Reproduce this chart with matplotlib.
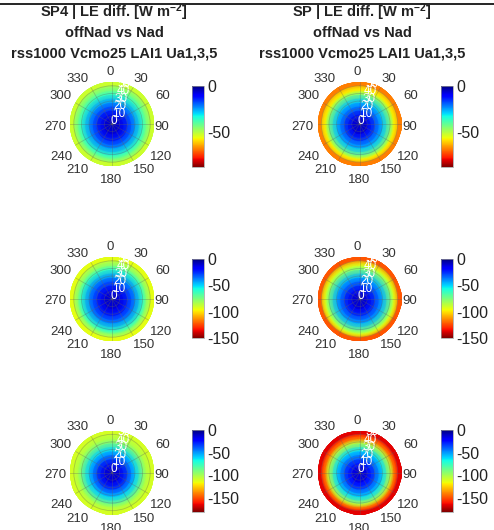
import numpy as np
import matplotlib
matplotlib.use("Agg")
import matplotlib.pyplot as plt
import matplotlib.transforms as mtransforms
from matplotlib.lines import Line2D

plt.rcParams['font.family'] = ['Liberation Sans', 'DejaVu Sans']
plt.rcParams['mathtext.fontset'] = 'custom'
plt.rcParams['mathtext.rm'] = 'Liberation Sans'
plt.rcParams['mathtext.bf'] = 'Liberation Sans:bold'
plt.rcParams['mathtext.it'] = 'Liberation Sans:italic'

# ---- data -------------------------------------------------------------
zenith = [0, 10, 20, 30, 40, 45, 50, 51, 60]          # view zenith angle (deg)
ring_shift = [3, 3, 2.5, 2, 1.5, 1, 0, 0, 0]          # offset of iso-lines toward 180 deg

# LE difference [W m-2] along zenith, per panel (row, column)
le_sp4_row1 = [-4, -8, -15, -25, -37, -44, -50, -53, -53]
le_sp_row1 = [-4, -9, -18, -28, -45, -58, -64, -69, -69]
le_sp4_row2 = [-8, -14, -25, -40, -62, -78, -88, -94, -94]
le_sp_row2 = [-8, -15, -28, -45, -75, -93, -112, -123, -123]
le_sp4_row3 = [-10, -18, -35, -60, -90, -103, -108, -110, -110]
le_sp_row3 = [-10, -20, -38, -62, -105, -140, -160, -165, -165]

clim_min = [-89, -150, -181]
cbar_ticks = [[0, -50], [0, -50, -100, -150], [0, -50, -100, -150]]
theta_ticks = [0, 30, 60, 90, 120, 150, 180, 210, 240, 270, 300, 330]
r_ticks = [0, 10, 20, 30, 40, 50]

titles = [
    [r"SP4 | LE diff. [W m$^{\mathbf{-2}}$]", "offNad vs Nad", "rss1000 Vcmo25 LAI1 Ua1,3,5"],
    [r"SP | LE diff. [W m$^{\mathbf{-2}}$]", "offNad vs Nad", "rss1000 Vcmo25 LAI1 Ua1,3,5"],
]

panels = [[le_sp4_row1, le_sp_row1], [le_sp4_row2, le_sp_row2], [le_sp4_row3, le_sp_row3]]

# ---- layout -----------------------------------------------------------
W, H = 494, 530
fig = plt.figure(figsize=(W / 100, H / 100), dpi=100)

ax_cx = [112, 359.5]
ax_cy = [124, 299, 472.5]
rad_px = 42
cbar_x = [192, 441]
cbar_y = [(86, 167), (259, 338), (430, 512)]
# pixel offsets of the angle labels from the dial centre (MATLAB polar style)
theta_label_dx = [-2, 29, 51, 50, 49, 32, -0.5, -34.5, -51, -57, -51, -34.5]
theta_label_dy = [-52, -45, -28, 2.5, 33, 46, 56, 46, 33, 2.5, -28, -45]

th = np.linspace(0, 2 * np.pi, 361)
rlabel_offset = mtransforms.ScaledTranslation(-2 / 100, -3 / 100, fig.dpi_scale_trans)

for row in range(3):
    for col in range(2):
        cx, cy = ax_cx[col], ax_cy[row]
        ax = fig.add_axes([(cx - rad_px) / W, (H - cy - rad_px) / H,
                           2 * rad_px / W, 2 * rad_px / H], projection='polar')
        ax.set_theta_zero_location('N')
        ax.set_theta_direction(-1)

        rr = np.array(zenith, float)[None, :]
        sh = np.array(ring_shift, float)[None, :]
        X = rr * np.sin(th)[:, None]
        Y = rr * np.cos(th)[:, None] - sh
        R = np.hypot(X, Y)
        T = np.unwrap(np.arctan2(X, Y), axis=0)
        C = np.broadcast_to(np.array(panels[row][col], float)[None, :], R.shape)
        m = ax.pcolormesh(T, R, C, shading='gouraud', cmap='jet_r',
                          vmin=clim_min[row], vmax=0)

        ax.set_ylim(0, 55)
        ax.set_yticks(r_ticks)
        ax.set_yticklabels([str(v) for v in r_ticks], color='white', fontsize=8.5)
        ax.set_rlabel_position(12)
        ax.set_xticks(np.deg2rad(theta_ticks))
        ax.set_xticklabels([])
        ax.grid(color='#606060', alpha=0.35, lw=0.6)
        ax.spines['polar'].set_visible(False)
        for lab in ax.get_yticklabels():
            lab.set_transform(lab.get_transform() + rlabel_offset)

        for a, dx, dy in zip(theta_ticks, theta_label_dx, theta_label_dy):
            fig.text((cx + dx) / W, 1 - (cy + dy) / H, str(a), ha='center', va='center',
                     fontsize=9.5, color='#333333')

        y0, y1 = cbar_y[row]
        cax = fig.add_axes([cbar_x[col] / W, (H - y1) / H, 11.5 / W, (y1 - y0) / H])
        cb = fig.colorbar(m, cax=cax, ticks=cbar_ticks[row])
        cb.ax.set_yticklabels([str(v) for v in cbar_ticks[row]])
        cb.ax.tick_params(length=0, labelsize=11.5, pad=3, colors='#222222')
        cb.outline.set_linewidth(0.5)
        cb.outline.set_edgecolor('#999999')

title_x = [114, 362]
title_y = [12, 33, 54]
for col in range(2):
    for k, line in enumerate(titles[col]):
        fig.text(title_x[col] / W, 1 - title_y[k] / H, line, ha='center', va='center',
                 fontsize=10.5, fontweight='bold', color='#222222')

fig.add_artist(Line2D([0, 1], [1 - 4 / H, 1 - 4 / H], transform=fig.transFigure,
                      color='black', lw=1.2))

fig.savefig('out.png', dpi=100)
